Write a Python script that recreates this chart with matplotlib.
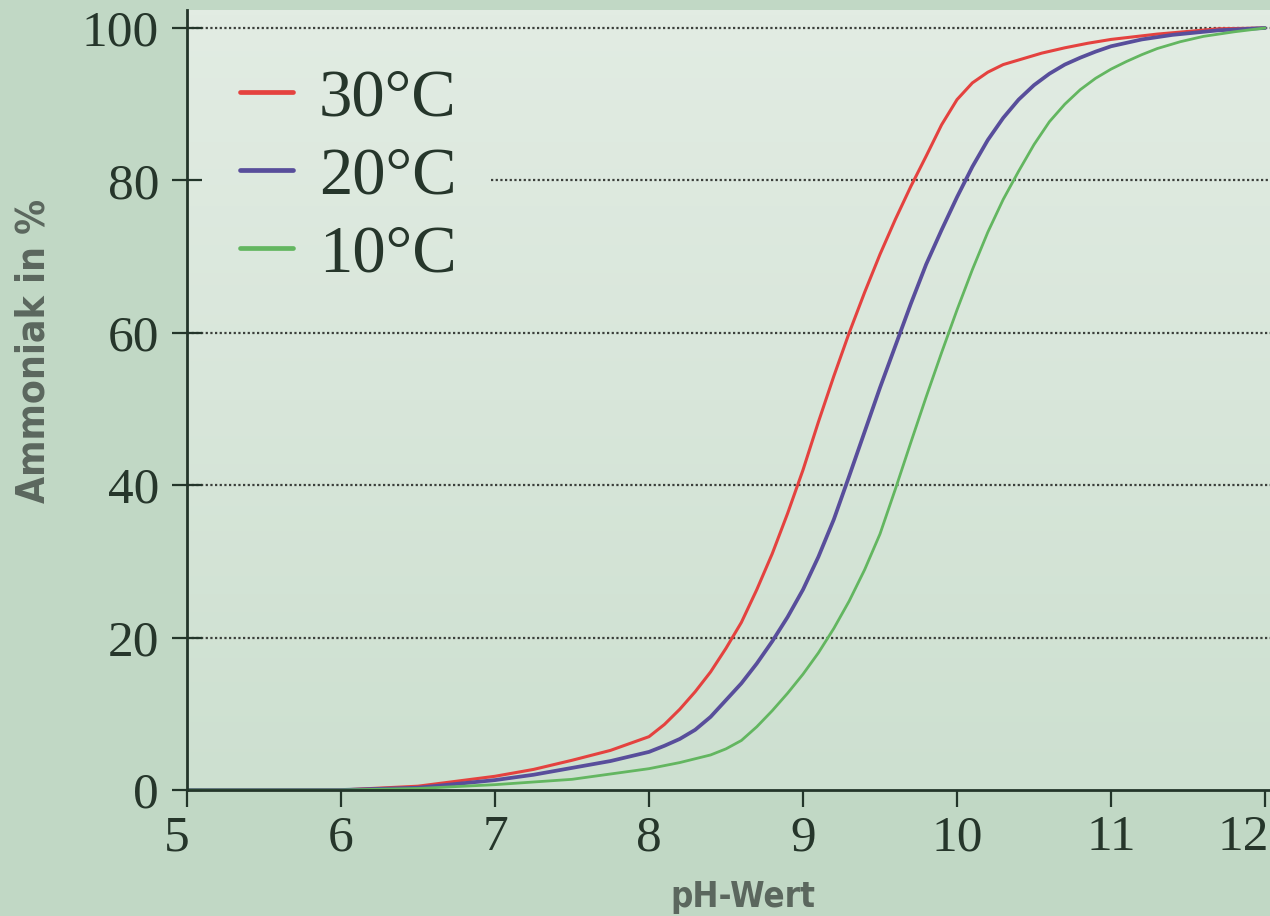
import numpy as np
import matplotlib
matplotlib.use("Agg")
import matplotlib.pyplot as plt
from matplotlib.colors import LinearSegmentedColormap
from matplotlib.transforms import ScaledTranslation

# Share of free ammonia (NH3) in total ammonium/ammonia, by pH and water temperature
ph_30 = [5.0, 6.0, 6.5, 7.0, 7.25, 7.5, 7.75, 8.0, 8.1, 8.2, 8.3, 8.4, 8.5, 8.6, 8.7,
         8.8, 8.9, 9.0, 9.1, 9.2, 9.3, 9.4, 9.5, 9.6, 9.7, 9.8, 9.9, 10.0, 10.1,
         10.2, 10.3, 10.4, 10.55, 10.7, 10.85, 11.0, 11.3, 11.7, 12.0]
nh3_30 = [0.0, 0.0, 0.5, 1.8, 2.7, 3.9, 5.2, 7.0, 8.6, 10.6, 12.9, 15.5, 18.6, 22.0, 26.3,
          31.0, 36.3, 42.0, 48.3, 54.3, 60.0, 65.3, 70.3, 74.9, 79.2, 83.2, 87.3, 90.6, 92.8,
          94.2, 95.2, 95.8, 96.7, 97.4, 98.0, 98.5, 99.2, 99.9, 100.0]

ph_20 = [5.0, 6.0, 6.5, 7.0, 7.25, 7.5, 7.75, 8.0, 8.1, 8.2, 8.3, 8.4, 8.5, 8.6, 8.7,
         8.8, 8.9, 9.0, 9.1, 9.2, 9.3, 9.4, 9.5, 9.6, 9.7, 9.8, 9.9, 10.0, 10.1,
         10.2, 10.3, 10.4, 10.5, 10.6, 10.7, 10.8, 10.9, 11.0, 11.2, 11.4, 11.7, 12.0]
nh3_20 = [0.0, 0.0, 0.3, 1.3, 2.0, 2.9, 3.8, 5.0, 5.8, 6.7, 7.9, 9.6, 11.8, 14.0, 16.6,
          19.5, 22.7, 26.3, 30.6, 35.5, 41.2, 47.0, 52.8, 58.3, 63.8, 69.0, 73.5, 77.8, 81.8,
          85.3, 88.2, 90.6, 92.5, 94.0, 95.2, 96.1, 96.9, 97.6, 98.5, 99.1, 99.7, 100.0]

ph_10 = [5.0, 6.0, 6.5, 7.0, 7.5, 8.0, 8.2, 8.4, 8.5, 8.6, 8.7, 8.8, 8.9, 9.0, 9.1,
         9.2, 9.3, 9.4, 9.5, 9.6, 9.7, 9.8, 9.9, 10.0, 10.1, 10.2, 10.3, 10.4, 10.5,
         10.6, 10.7, 10.8, 10.9, 11.0, 11.1, 11.2, 11.3, 11.45, 11.6, 11.8, 12.0]
nh3_10 = [0.0, 0.0, 0.2, 0.7, 1.4, 2.8, 3.6, 4.6, 5.4, 6.5, 8.3, 10.4, 12.7, 15.2, 18.0,
          21.2, 24.8, 28.9, 33.6, 39.5, 45.6, 51.6, 57.4, 63.0, 68.3, 73.2, 77.5, 81.2, 84.7,
          87.7, 90.0, 91.9, 93.4, 94.6, 95.6, 96.5, 97.3, 98.2, 98.9, 99.5, 100.0]

series_labels = ["30°C", "20°C", "10°C"]
series_colors = ["#e4423f", "#584e9b", "#63b660"]
series_widths = [2.2, 2.7, 2.0]

x_ticks = [5, 6, 7, 8, 9, 10, 11, 12]
y_ticks = [0, 20, 40, 60, 80, 100]

W, H = 1270, 916
fig = plt.figure(figsize=(W / 100, H / 100), dpi=100, facecolor="#c1d8c5")
ax = fig.add_axes([187 / W, 126 / H, 1083 / W, 780 / H])

# soft paper-like backdrop, lighter towards the top
bg = LinearSegmentedColormap.from_list("paper", ["#cde0d0", "#d8e6da", "#e2ece3"])
grad = np.linspace(0, 1, 256).reshape(-1, 1)
ax.imshow(grad, extent=[0, 1, 0, 1], transform=ax.transAxes, cmap=bg,
          origin="lower", aspect="auto", zorder=0, interpolation="bilinear")

for ph, val, lab, col, lw in zip([ph_30, ph_20, ph_10], [nh3_30, nh3_20, nh3_10],
                                 series_labels, series_colors, series_widths):
    ax.plot(ph, val, color=col, lw=lw, label=lab, zorder=3,
            solid_capstyle="round", solid_joinstyle="round")

ax.set_xlim(5, 5 + 1083 / 154)
ax.set_ylim(0, 780 / 7.62)

spine_col = "#23352a"
for side in ("top", "right"):
    ax.spines[side].set_visible(False)
for side in ("left", "bottom"):
    ax.spines[side].set_color(spine_col)
    ax.spines[side].set_linewidth(2.0)
    ax.spines[side].set_zorder(4)

tick_font = dict(family=["Liberation Serif", "DejaVu Serif"], size=37)
ax.set_xticks(x_ticks)
ax.set_yticks(y_ticks)
ax.set_xticklabels([str(v) for v in x_ticks], fontdict=tick_font, color="#26362b")
ax.set_yticklabels([str(v) for v in y_ticks], fontdict=tick_font, color="#26362b")
ax.tick_params(axis="x", direction="out", length=12, width=1.6, color=spine_col, pad=6)
ax.tick_params(axis="y", direction="inout", length=22, width=1.6, color=spine_col, pad=9)

# end labels sit slightly inward at the page edges
xlabels = ax.get_xticklabels()
xlabels[0].set_transform(xlabels[0].get_transform() + ScaledTranslation(-10 / 100, 0, fig.dpi_scale_trans))
xlabels[-1].set_horizontalalignment("right")
xlabels[-1].set_transform(xlabels[-1].get_transform() + ScaledTranslation(4 / 100, 0, fig.dpi_scale_trans))

label_font = dict(family=["Liberation Sans Narrow", "DejaVu Sans"], weight="bold",
                  stretch="condensed", color="#5b675e")
ax.set_xlabel("pH-Wert", fontsize=25, **label_font)
ax.xaxis.label.set_va("baseline")
ax.xaxis.set_label_coords((743 - 187) / 1083, (916 - 907 - 126) / 780)
ax.set_ylabel("Ammoniak in %", fontsize=28, **label_font)
ax.yaxis.label.set_va("center")
ax.yaxis.set_label_coords((34 - 187) / 1083, (916 - 351 - 126) / 780)

leg = ax.legend(loc="upper left", bbox_to_anchor=((240 - 187) / 1083, (916 - 68 - 126) / 780),
                frameon=False, prop=dict(family=["Liberation Serif", "DejaVu Serif"], size=48),
                handlelength=0.8, handletextpad=0.38, labelspacing=0.26,
                borderpad=0, borderaxespad=0)
for t in leg.get_texts():
    t.set_color("#26362b")
for h in leg.get_lines():
    h.set_linewidth(3.4)

# dotted horizontal guides; the 80 line starts right of the legend
fig.canvas.draw()
bb = leg.get_window_extent(fig.canvas.get_renderer())
ax_bb = ax.get_window_extent()
leg_right = (bb.x1 + 35 - ax_bb.x0) / ax_bb.width
for v in y_ticks[1:]:
    xmin = leg_right if v == 80 else 0
    ax.axhline(v, xmin=xmin, xmax=1, color="#3b3f3b", lw=1.6,
               ls=(0, (1, 1.1)), zorder=1)

fig.savefig("out.png", dpi=100, facecolor=fig.get_facecolor())
